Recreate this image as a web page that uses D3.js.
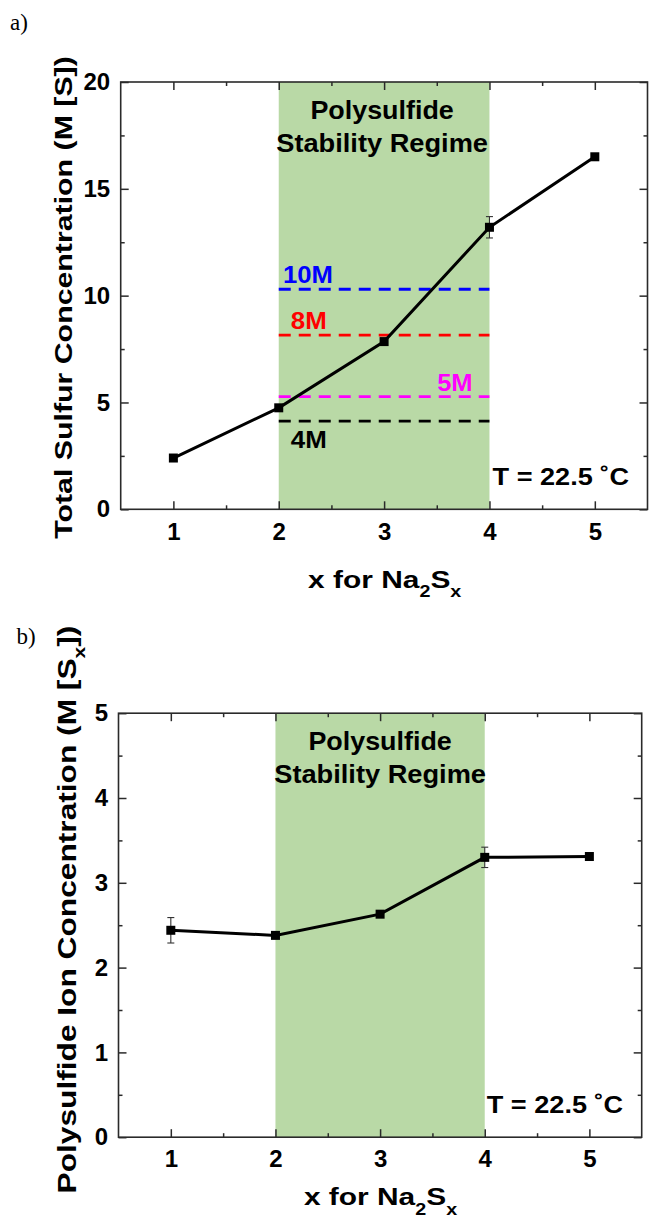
<!DOCTYPE html>
<html><head><meta charset="utf-8">
<script src="https://cdn.jsdelivr.net/npm/d3@7"></script>
<style>body{margin:0;background:#fff} svg{display:block}</style>
</head><body>
<svg id="chart" width="649" height="1220"></svg>
<script>
// ---------------- data ----------------
const xValues = [1, 2, 3, 4, 5];
const xTickValues = [1, 2, 3, 4, 5];
const xMinorTicks = [1.5, 2.5, 3.5, 4.5];
const stabilityRegime = [2, 4];

const totalSulfur = [2.4, 4.75, 7.85, 13.2, 16.5];
const totalSulfurErr = [0, 0, 0, 0.5, 0];
const yTicksA = [0, 5, 10, 15, 20];
const yMinorA = [2.5, 7.5, 12.5, 17.5];

const refLevels = [10.3, 8.15, 5.27, 4.13];
const refLabels = ["10M", "8M", "5M", "4M"];
const refColors = ["#0000ff", "#ff0000", "#ff00ff", "#000000"];

const polysulfideIon = [2.44, 2.38, 2.63, 3.30, 3.31];
const polysulfideIonErr = [0.15, 0, 0, 0.12, 0];
const yTicksB = [0, 1, 2, 3, 4, 5];
const yMinorB = [0.5, 1.5, 2.5, 3.5, 4.5];

// ---------------- layout ----------------
const SANS = "'Liberation Sans', Arial, sans-serif";
const SERIF = "'Liberation Serif', 'Times New Roman', serif";
const GREEN = "#b9d9a6";
const AXIS = "#2a2a2a";

const svg = d3.select("#chart");

function placeText(parent, o) {
  const g = parent.append("g")
    .attr("transform", `translate(${o.x},${o.y}) rotate(${o.rotate || 0})`);
  const t = g.append("text")
    .attr("text-anchor", o.anchor || "start")
    .attr("font-family", o.family || SANS)
    .attr("font-weight", o.weight || "bold")
    .attr("font-size", o.size)
    .attr("fill", o.color || "#000");
  const subShift = o.subShift || o.size * 0.4;
  let shifted = false;
  o.parts.forEach(p => {
    const isSub = Array.isArray(p);
    const str = isSub ? p[0] : p;
    const ts = t.append("tspan").text(str);
    if (isSub && !shifted) { ts.attr("dy", subShift).attr("font-size", o.size * 0.66); shifted = true; }
    else if (isSub) { ts.attr("font-size", o.size * 0.66); }
    else if (!isSub && shifted) { ts.attr("dy", -subShift); shifted = false; }
  });
  if (o.width) {
    const w = t.node().getBBox().width;
    t.attr("transform", `scale(${o.width / w},1)`);
  }
  return g;
}

function drawPanel(cfg) {
  const x = d3.scaleLinear().domain([0.5, 5.5]).range([cfg.left, cfg.right]);
  const y = d3.scaleLinear().domain(cfg.yDomain).range([cfg.bottom, cfg.top]);
  const g = svg.append("g");

  // stability regime band
  g.append("rect")
    .attr("x", x(stabilityRegime[0])).attr("width", x(stabilityRegime[1]) - x(stabilityRegime[0]))
    .attr("y", y(cfg.yDomain[1])).attr("height", y(cfg.yDomain[0]) - y(cfg.yDomain[1]))
    .attr("fill", GREEN);

  // reference dashed lines
  if (cfg.refs) {
    refLevels.forEach((lv, i) => {
      g.append("line")
        .attr("x1", x(stabilityRegime[0])).attr("x2", x(stabilityRegime[1]))
        .attr("y1", y(lv)).attr("y2", y(lv))
        .attr("stroke", refColors[i]).attr("stroke-width", 2.8)
        .attr("stroke-dasharray", "12,8");
      const L = cfg.refLabelLayout[i];
      placeText(g, {x: x(L.x), y: y(lv) + L.dy, anchor: L.anchor, size: 24, width: L.w,
        color: refColors[i], parts: [refLabels[i]]});
    });
  }

  // data line
  const pts = xValues.map((xv, i) => ({x: xv, y: cfg.values[i], e: cfg.errors[i]}));
  g.append("path").datum(pts)
    .attr("d", d3.line().x(d => x(d.x)).y(d => y(d.y)))
    .attr("fill", "none").attr("stroke", "#000").attr("stroke-width", 3);

  // error bars
  const eb = g.selectAll(".eb").data(pts.filter(d => d.e > 0)).enter().append("g");
  eb.append("line").attr("x1", d => x(d.x)).attr("x2", d => x(d.x))
    .attr("y1", d => y(d.y - d.e)).attr("y2", d => y(d.y + d.e));
  eb.append("line").attr("x1", d => x(d.x) - 3.5).attr("x2", d => x(d.x) + 3.5)
    .attr("y1", d => y(d.y - d.e)).attr("y2", d => y(d.y - d.e));
  eb.append("line").attr("x1", d => x(d.x) - 3.5).attr("x2", d => x(d.x) + 3.5)
    .attr("y1", d => y(d.y + d.e)).attr("y2", d => y(d.y + d.e));
  eb.selectAll("line").attr("stroke", "#333").attr("stroke-width", 1.1);

  // markers
  g.selectAll(".mk").data(pts).enter().append("rect")
    .attr("x", d => x(d.x) - 4.5).attr("y", d => y(d.y) - 4.5)
    .attr("width", 9).attr("height", 9).attr("fill", "#000");

  // axes (ticks inward on all four sides)
  const styleAxis = sel => {
    sel.select(".domain").remove();
    sel.selectAll(".tick line").attr("stroke", AXIS).attr("stroke-width", 1.5);
    sel.selectAll("text").attr("font-family", SANS).attr("font-weight", "bold")
      .attr("font-size", 24).attr("fill", "#000");
  };
  const fmt = d3.format("d");
  g.append("g").attr("transform", `translate(0,${cfg.bottom})`)
    .call(d3.axisBottom(x).tickValues(xTickValues).tickSize(-8).tickPadding(cfg.xPad).tickFormat(fmt))
    .call(styleAxis);
  g.append("g").attr("transform", `translate(0,${cfg.bottom})`)
    .call(d3.axisBottom(x).tickValues(xMinorTicks).tickSize(-4).tickFormat(""))
    .call(styleAxis);
  g.append("g").attr("transform", `translate(0,${cfg.top})`)
    .call(d3.axisTop(x).tickValues(xTickValues).tickSize(-8).tickFormat(""))
    .call(styleAxis);
  g.append("g").attr("transform", `translate(0,${cfg.top})`)
    .call(d3.axisTop(x).tickValues(xMinorTicks).tickSize(-4).tickFormat(""))
    .call(styleAxis);
  g.append("g").attr("transform", `translate(${cfg.left},0)`)
    .call(d3.axisLeft(y).tickValues(cfg.yTicks).tickSize(-8).tickPadding(cfg.yPad).tickFormat(fmt))
    .call(styleAxis);
  g.append("g").attr("transform", `translate(${cfg.left},0)`)
    .call(d3.axisLeft(y).tickValues(cfg.yMinor).tickSize(-4).tickFormat(""))
    .call(styleAxis);
  g.append("g").attr("transform", `translate(${cfg.right},0)`)
    .call(d3.axisRight(y).tickValues(cfg.yTicks).tickSize(-8).tickFormat(""))
    .call(styleAxis);
  g.append("g").attr("transform", `translate(${cfg.right},0)`)
    .call(d3.axisRight(y).tickValues(cfg.yMinor).tickSize(-4).tickFormat(""))
    .call(styleAxis);

  // frame
  g.append("rect").attr("x", cfg.left).attr("y", cfg.top)
    .attr("width", cfg.right - cfg.left).attr("height", cfg.bottom - cfg.top)
    .attr("fill", "none").attr("stroke", AXIS).attr("stroke-width", 1.6);

  // region annotation
  placeText(g, {x: x(3) + cfg.regOff, y: cfg.top + 36.7, anchor: "middle", size: 25, width: 143.6, parts: ["Polysulfide"]});
  placeText(g, {x: x(3) + cfg.regOff, y: cfg.top + 69.7, anchor: "middle", size: 25, width: 212, parts: ["Stability  Regime"]});
  placeText(g, {x: cfg.right - 18.5, y: cfg.bottom - 24, anchor: "end", size: 24, width: 136.5, parts: ["T = 22.5 \u02DAC"]});

  // axis titles
  placeText(g, {x: cfg.xTitleX, y: cfg.xTitleY, anchor: "middle", size: 24, width: 153.5, subShift: 9.5,
    parts: ["x for Na", ["2"], "S", ["x"]]});
  placeText(g, {x: cfg.yTitleX, y: cfg.yTitleY, rotate: -90, anchor: "middle", size: cfg.yTitleSize,
    width: cfg.yTitleW, subShift: 9.5, parts: cfg.yTitleParts});

  // panel label
  placeText(svg, {x: cfg.labX, y: cfg.labY, size: 23, family: SERIF, weight: "normal", parts: [cfg.label]});
}

drawPanel({
  label: "a)", labX: 10, labY: 30,
  left: 120.7, right: 647.5, top: 82, bottom: 509.3,
  yDomain: [0, 20], yTicks: yTicksA, yMinor: yMinorA,
  values: totalSulfur, errors: totalSulfurErr,
  xPad: 13.5, yPad: 10.5, regOff: -2,
  refs: true,
  refLabelLayout: [
    {x: 2.04, dy: -6, anchor: "start", w: 50},
    {x: 2.115, dy: -6.5, anchor: "start", w: 36},
    {x: 3.84, dy: -6, anchor: "end", w: 35.5},
    {x: 2.115, dy: 26.5, anchor: "start", w: 36}
  ],
  xTitleX: 384.7, xTitleY: 587.5,
  yTitleX: 71.5, yTitleY: 297.5, yTitleSize: 24.5, yTitleW: 483,
  yTitleParts: ["Total Sulfur Concentration (M [S])"]
});

drawPanel({
  label: "b)", labX: 16.5, labY: 644,
  left: 118.5, right: 641.7, top: 713.2, bottom: 1137.2,
  yDomain: [0, 5], yTicks: yTicksB, yMinor: yMinorB,
  values: polysulfideIon, errors: polysulfideIonErr,
  xPad: 12.5, yPad: 10.3, regOff: 0,
  refs: false,
  xTitleX: 380.5, xTitleY: 1205.3,
  yTitleX: 75.5, yTitleY: 909.6, yTitleSize: 25.5, yTitleW: 568,
  yTitleParts: ["Polysulfide Ion Concentration (M [S", ["x"], "])"]
});
</script>
</body></html>
